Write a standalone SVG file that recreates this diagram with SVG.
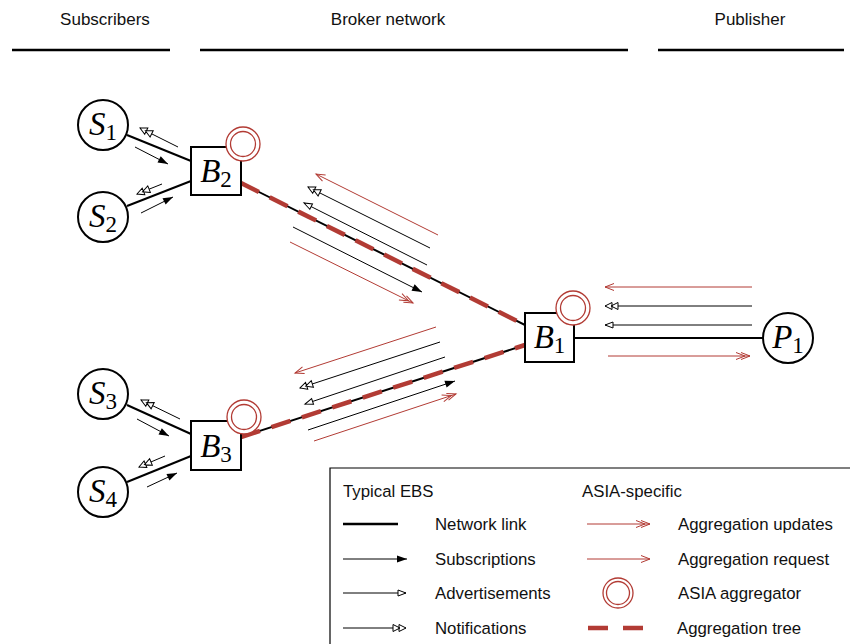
<svg xmlns="http://www.w3.org/2000/svg" width="850" height="644" viewBox="0 0 850 644">
<style>
.hdr{font-family:"Liberation Sans",Arial,sans-serif;font-size:17px;fill:#111;text-anchor:middle}
.lg{font-family:"Liberation Sans",Arial,sans-serif;font-size:16.8px;fill:#111}
.rule{stroke:#000;stroke-width:2.5}
.link{stroke:#000;stroke-width:2;fill:none}
.tree{stroke:#b23b34;stroke-width:4.5;stroke-dasharray:20 12;fill:none}
.blk{stroke:#000;stroke-width:1;fill:none}
.red{stroke:#b23b34;stroke-width:1;fill:none}
.node{fill:#fff;stroke:#000;stroke-width:2}
.agg{fill:#fff;stroke:#b23b34;stroke-width:1.3}
.lbl{font-family:"Liberation Serif","Times New Roman",serif;font-size:33px;fill:#000;text-anchor:middle}
.it{font-style:italic}
.sub{font-size:23px}
</style>
<defs>
<marker id="sub" markerWidth="12" markerHeight="10" refX="10" refY="4" orient="auto" markerUnits="userSpaceOnUse" overflow="visible"><path d="M0,0.5 L10,4 L0,7.5 z" fill="#000"/></marker>
<marker id="adv" markerWidth="12" markerHeight="10" refX="9" refY="4" orient="auto" markerUnits="userSpaceOnUse" overflow="visible"><path d="M1,1 L9,4 L1,7 z" fill="#fff" stroke="#000" stroke-width="1"/></marker>
<marker id="not" markerWidth="18" markerHeight="10" refX="14" refY="4" orient="auto" markerUnits="userSpaceOnUse" overflow="visible"><path d="M1,0.5 L8,4 L1,7.5 z M7,0.5 L14,4 L7,7.5 z" fill="#fff" stroke="#000" stroke-width="1"/></marker>
<marker id="req" markerWidth="12" markerHeight="10" refX="10" refY="4" orient="auto" markerUnits="userSpaceOnUse" overflow="visible"><path d="M1,0.5 L10,4 L1,7.5" fill="none" stroke="#b23b34" stroke-width="1"/></marker>
<marker id="upd" markerWidth="18" markerHeight="10" refX="15" refY="4" orient="auto" markerUnits="userSpaceOnUse" overflow="visible"><path d="M1,0.5 L10,4 L1,7.5 M6,0.5 L15,4 L6,7.5" fill="none" stroke="#b23b34" stroke-width="1"/></marker>
</defs>

<g id="headers">
<text class="hdr" x="105" y="25">Subscribers</text>
<text class="hdr" x="388" y="25">Broker network</text>
<text class="hdr" x="750" y="25">Publisher</text>
<line class="rule" x1="12" y1="50" x2="170" y2="50"/>
<line class="rule" x1="200" y1="50" x2="628" y2="50"/>
<line class="rule" x1="658" y1="50" x2="844" y2="50"/>
</g>

<g id="connectors">
<line class="link" x1="127" y1="135" x2="191" y2="161"/>
<line class="link" x1="127" y1="206" x2="191" y2="181"/>
<line class="link" x1="127" y1="405" x2="191" y2="434"/>
<line class="link" x1="127" y1="482" x2="191" y2="456"/>
<line class="link" x1="241" y1="183" x2="525" y2="325"/>
<line class="link" x1="241" y1="437" x2="525" y2="345"/>
<line class="link" x1="574" y1="338" x2="763" y2="338"/>
<line class="tree" x1="241" y1="183" x2="525" y2="325"/>
<line class="tree" x1="241" y1="437" x2="525" y2="345"/>

<line class="blk" x1="178" y1="147" x2="140" y2="128" marker-end="url(#not)"/>
<line class="blk" x1="135" y1="147" x2="168" y2="164" marker-end="url(#sub)"/>
<line class="blk" x1="162" y1="184" x2="137" y2="194" marker-end="url(#not)"/>
<line class="blk" x1="141" y1="213" x2="173" y2="197" marker-end="url(#sub)"/>
<line class="blk" x1="180" y1="419" x2="141" y2="400" marker-end="url(#not)"/>
<line class="blk" x1="137" y1="419" x2="169" y2="436" marker-end="url(#sub)"/>
<line class="blk" x1="165" y1="456" x2="139" y2="467" marker-end="url(#not)"/>
<line class="blk" x1="147" y1="487" x2="177" y2="473" marker-end="url(#sub)"/>

<line class="red" x1="438" y1="235" x2="316" y2="174" marker-end="url(#req)"/>
<line class="blk" x1="430" y1="248" x2="308" y2="187" marker-end="url(#not)"/>
<line class="blk" x1="427" y1="265" x2="304" y2="203" marker-end="url(#adv)"/>
<line class="blk" x1="293" y1="227" x2="422" y2="292" marker-end="url(#sub)"/>
<line class="red" x1="290" y1="242" x2="413" y2="303" marker-end="url(#upd)"/>

<line class="red" x1="436" y1="327" x2="295" y2="373" marker-end="url(#req)"/>
<line class="blk" x1="440" y1="342" x2="300" y2="388" marker-end="url(#not)"/>
<line class="blk" x1="445" y1="357" x2="305" y2="404" marker-end="url(#adv)"/>
<line class="blk" x1="308" y1="430" x2="455" y2="381" marker-end="url(#sub)"/>
<line class="red" x1="314" y1="441" x2="456" y2="394" marker-end="url(#upd)"/>

<line class="red" x1="752" y1="287" x2="605" y2="287" marker-end="url(#req)"/>
<line class="blk" x1="752" y1="306" x2="605" y2="306" marker-end="url(#not)"/>
<line class="blk" x1="752" y1="325" x2="605" y2="325" marker-end="url(#adv)"/>
<line class="red" x1="608" y1="356" x2="750" y2="356" marker-end="url(#upd)"/>
</g>

<g id="S1"><circle class="node" cx="103" cy="125" r="25"/><text class="lbl" x="103" y="135"><tspan class="it">S</tspan><tspan class="sub" dy="5">1</tspan></text></g>
<g id="S2"><circle class="node" cx="103" cy="217" r="25"/><text class="lbl" x="103" y="227"><tspan class="it">S</tspan><tspan class="sub" dy="5">2</tspan></text></g>
<g id="S3"><circle class="node" cx="103" cy="394" r="25"/><text class="lbl" x="103" y="404"><tspan class="it">S</tspan><tspan class="sub" dy="5">3</tspan></text></g>
<g id="S4"><circle class="node" cx="103" cy="492" r="25"/><text class="lbl" x="103" y="502"><tspan class="it">S</tspan><tspan class="sub" dy="5">4</tspan></text></g>
<g id="P1"><circle class="node" cx="788" cy="338" r="25"/><text class="lbl" x="788" y="348"><tspan class="it">P</tspan><tspan class="sub" dy="5">1</tspan></text></g>

<g id="B2"><rect class="node" x="191" y="147" width="50" height="48"/><text class="lbl" x="216" y="182"><tspan class="it">B</tspan><tspan class="sub" dy="5">2</tspan></text><circle class="agg" cx="243" cy="144" r="17"/><circle class="agg" cx="243" cy="144" r="12.5"/></g>
<g id="B3"><rect class="node" x="191" y="421" width="50" height="49"/><text class="lbl" x="216" y="457"><tspan class="it">B</tspan><tspan class="sub" dy="5">3</tspan></text><circle class="agg" cx="244" cy="417" r="17"/><circle class="agg" cx="244" cy="417" r="12.5"/></g>
<g id="B1"><rect class="node" x="525" y="313" width="49" height="49"/><text class="lbl" x="549.500" y="348"><tspan class="it">B</tspan><tspan class="sub" dy="5">1</tspan></text><circle class="agg" cx="573" cy="308" r="17"/><circle class="agg" cx="573" cy="308" r="12.5"/></g>

<g id="legend">
<path d="M330,644 V468 H850" fill="none" stroke="#000" stroke-width="1.2"/>
<text class="lg" x="343" y="497">Typical EBS</text>
<text class="lg" x="582" y="497">ASIA-specific</text>
<line x1="343" y1="524" x2="398" y2="524" stroke="#000" stroke-width="2.5"/>
<text class="lg" x="435" y="530">Network link</text>
<line class="blk" x1="343" y1="559" x2="407" y2="559" marker-end="url(#sub)"/>
<text class="lg" x="435" y="565">Subscriptions</text>
<line class="blk" x1="343" y1="593" x2="406" y2="593" marker-end="url(#adv)"/>
<text class="lg" x="435" y="599">Advertisements</text>
<line class="blk" x1="343" y1="628" x2="406" y2="628" marker-end="url(#not)"/>
<text class="lg" x="435" y="634">Notifications</text>
<line class="red" x1="587" y1="524" x2="650" y2="524" marker-end="url(#upd)"/>
<text class="lg" x="678" y="530">Aggregation updates</text>
<line class="red" x1="587" y1="559" x2="650" y2="559" marker-end="url(#req)"/>
<text class="lg" x="678" y="565">Aggregation request</text>
<circle class="agg" cx="618" cy="593" r="15"/><circle class="agg" cx="618" cy="593" r="11.5"/>
<text class="lg" x="678" y="599">ASIA aggregator</text>
<line x1="588" y1="628" x2="643" y2="628" stroke="#b23b34" stroke-width="4.5" stroke-dasharray="20 15"/>
<text class="lg" x="677" y="634">Aggregation tree</text>
</g>
</svg>
